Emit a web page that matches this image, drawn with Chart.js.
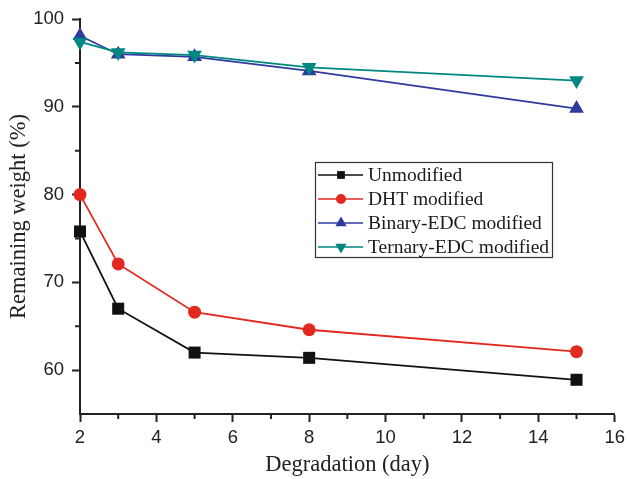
<!DOCTYPE html>
<html>
<head>
<meta charset="utf-8">
<script src="https://cdn.jsdelivr.net/npm/chart.js@4/dist/chart.umd.min.js"></script>
<style>
html,body{margin:0;padding:0;background:#fff;}
#wrap{width:630px;height:479px;position:relative;}
</style>
</head>
<body>
<div id="wrap"><canvas id="c" width="630" height="479"></canvas></div>
<script>
const days = [2, 3, 5, 8, 15];
const unmodified = [75.8, 67.0, 62.0, 61.4, 58.9];
const dhtModified = [80.0, 72.1, 66.6, 64.6, 62.1];
const binaryEDC = [98.1, 96.0, 95.7, 94.1, 89.8];
const ternaryEDC = [97.4, 96.2, 95.9, 94.5, 93.0];
const seriesNames = ['Unmodified', 'DHT modified', 'Binary-EDC modified', 'Ternary-EDC modified'];
const xTitle = 'Degradation (day)';
const yTitle = 'Remaining weight (%)';

const colors = ['#111111', '#e2291f', '#2e3a9e', '#008780'];
const styles = [
  {pointStyle: 'rect', radius: 8.5, rotation: 0, lr: 5.5},
  {pointStyle: 'circle', radius: 6.5, rotation: 0, lr: 5},
  {pointStyle: 'triangle', radius: 8.5, rotation: 0, lr: 6.5},
  {pointStyle: 'triangle', radius: 8.5, rotation: 180, lr: 6.5}
];
const allValues = [unmodified, dhtModified, binaryEDC, ternaryEDC];

const datasets = allValues.map((vals, i) => ({
  label: seriesNames[i],
  data: days.map((d, j) => ({x: d, y: vals[j]})),
  borderColor: colors[i],
  backgroundColor: colors[i],
  borderWidth: 1.8,
  pointStyle: styles[i].pointStyle,
  pointRadius: styles[i].radius,
  pointRotation: styles[i].rotation,
  pointBorderWidth: 0,
  pointBackgroundColor: colors[i],
  tension: 0,
  clip: false
})).reverse();

const minorTicks = {
  id: 'minorTicks',
  afterDraw(chart) {
    const ctx = chart.ctx;
    const xs = chart.scales.x, ys = chart.scales.y;
    ctx.save();
    ctx.strokeStyle = '#222';
    ctx.lineWidth = 2;
    ctx.beginPath();
    for (let v = 3; v <= 15; v += 2) {
      const px = xs.getPixelForValue(v);
      ctx.moveTo(px, ys.bottom);
      ctx.lineTo(px, ys.bottom + 5);
    }
    for (let v = 65; v <= 95; v += 10) {
      const py = ys.getPixelForValue(v);
      ctx.moveTo(xs.left, py);
      ctx.lineTo(xs.left - 5, py);
    }
    ctx.stroke();
    ctx.restore();
  }
};

const boxLegend = {
  id: 'boxLegend',
  afterDraw(chart) {
    const ctx = chart.ctx;
    const left = 315, top = 162, w = 237, h = 95;
    ctx.save();
    ctx.fillStyle = '#fff';
    ctx.fillRect(left, top, w, h);
    ctx.strokeStyle = '#333';
    ctx.lineWidth = 1.2;
    ctx.strokeRect(left + 0.5, top + 0.5, w, h);
    ctx.font = '19.5px "Liberation Serif", "Times New Roman", serif';
    ctx.textBaseline = 'middle';
    ctx.textAlign = 'left';
    seriesNames.forEach((name, i) => {
      const y = top + 13 + i * 24;
      ctx.strokeStyle = colors[i];
      ctx.lineWidth = 1.6;
      ctx.beginPath();
      ctx.moveTo(left + 3, y);
      ctx.lineTo(left + 48, y);
      ctx.stroke();
      ctx.fillStyle = colors[i];
      ctx.strokeStyle = colors[i];
      Chart.helpers.drawPoint(ctx, {
        pointStyle: styles[i].pointStyle,
        rotation: styles[i].rotation,
        radius: styles[i].lr,
        borderWidth: 0
      }, left + 26, y);
      ctx.fillStyle = '#1a1a1a';
      ctx.fillText(name, left + 53, y + 1);
    });
    ctx.restore();
  }
};

new Chart(document.getElementById('c'), {
  type: 'line',
  data: {datasets},
  plugins: [minorTicks, boxLegend],
  options: {
    responsive: false,
    animation: false,
    layout: {padding: {left: 0, top: 18, right: 15, bottom: 0}},
    plugins: {legend: {display: false}, tooltip: {enabled: false}},
    scales: {
      x: {
        type: 'linear',
        min: 2, max: 16,
        ticks: {stepSize: 2, color: '#222', font: {family: '"Liberation Sans", Arial, sans-serif', size: 18.5}, padding: 5, maxRotation: 0},
        grid: {drawOnChartArea: false, drawTicks: true, tickLength: 8, tickColor: '#222', tickWidth: 2},
        border: {display: true, color: '#222', width: 2},
        title: {display: true, text: xTitle, color: '#222', font: {family: '"Liberation Serif", "Times New Roman", serif', size: 22.5}, padding: {top: 2, bottom: 0}},
        afterFit(s) { s.height = 65; }
      },
      y: {
        type: 'linear',
        min: 55, max: 100,
        ticks: {stepSize: 10, includeBounds: false, color: '#222', font: {family: '"Liberation Sans", Arial, sans-serif', size: 18.5}, padding: 8},
        grid: {drawOnChartArea: false, drawTicks: true, tickLength: 8, tickColor: '#222', tickWidth: 2},
        border: {display: true, color: '#222', width: 2},
        title: {display: true, text: yTitle, color: '#222', font: {family: '"Liberation Serif", "Times New Roman", serif', size: 22.5}, padding: {top: 6, bottom: 6}},
        afterFit(s) { s.width = 80; }
      }
    }
  }
});
</script>
</body>
</html>
